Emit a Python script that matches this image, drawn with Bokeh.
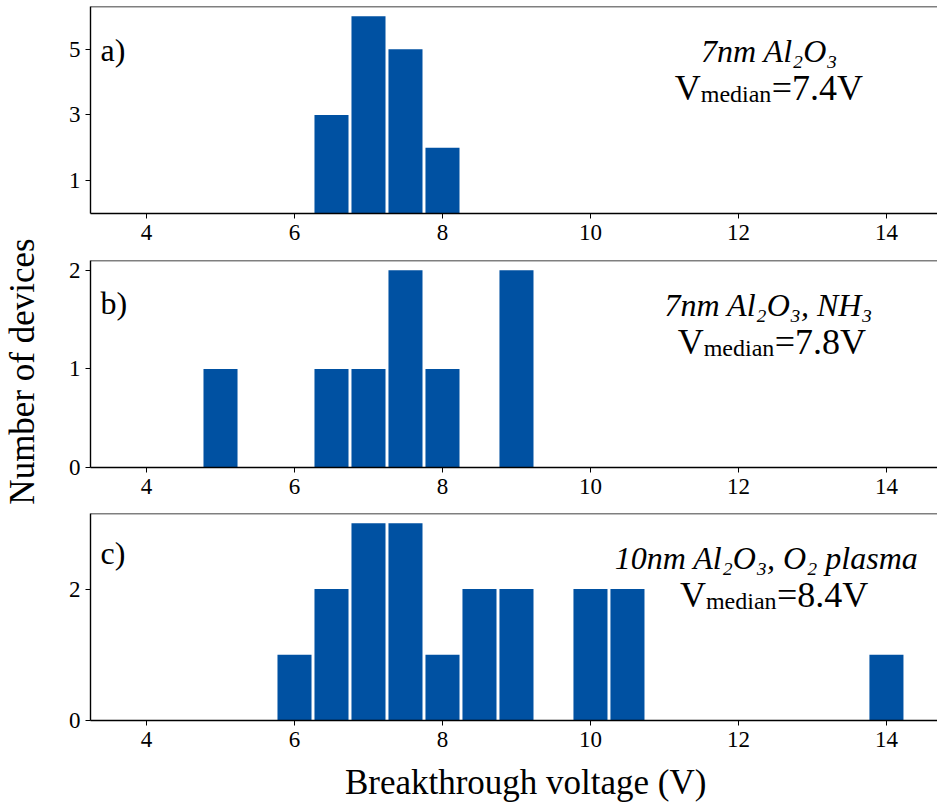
import math
from bokeh.plotting import figure
from bokeh.models import Range1d, FixedTicker, Label, Span, ColumnDataSource
from bokeh.layouts import column, row
from bokeh.embed import file_html
from bokeh.resources import INLINE

# ---- data ----
voltage_a = [6.5, 7.0, 7.5, 8.0]
count_a = [3, 6, 5, 2]
voltage_b = [5.0, 6.5, 7.0, 7.5, 8.0, 9.0]
count_b = [1, 1, 1, 2, 1, 2]
voltage_c = [6.0, 6.5, 7.0, 7.5, 8.0, 8.5, 9.0, 10.0, 10.5, 14.0]
count_c = [1, 2, 3, 3, 1, 2, 2, 2, 2, 1]
x_ticks = [4, 6, 8, 10, 12, 14]
y_ticks_a = [1, 3, 5]
y_ticks_b = [0, 1, 2]
y_ticks_c = [0, 2]
y_max = [6.3, 2.1, 3.15]
panel_labels = ["a)", "b)", "c)"]
titles = ["7nm Al\u2082O\u2083", "7nm Al\u2082O\u2083, NH\u2083", "10nm Al\u2082O\u2083, O\u2082 plasma"]
medians = ["7.4", "7.8", "8.4"]
x_label = "Breakthrough voltage (V)"
y_label = "Number of devices"

BAR = "#0051a2"
FONT = "Liberation Serif"
X_START, X_END = 3.243, 14.69
FIG_W = 889
BORDER_L = 42


def make_panel(volts, counts, yticks, ymax, height, btop, bbot, plabel, title, med,
               title_x, anchor_x, plabel_off):
    p = figure(width=FIG_W, height=height, x_range=Range1d(X_START, X_END),
               y_range=Range1d(0, ymax), output_backend="svg", toolbar_location=None,
               min_border_left=BORDER_L, min_border_right=0, min_border_top=btop,
               min_border_bottom=bbot)
    p.outline_line_color = None
    p.xgrid.visible = False
    p.ygrid.visible = False
    p.background_fill_color = "white"
    p.border_fill_color = "white"
    src = ColumnDataSource(dict(x=volts, top=counts))
    p.vbar(x="x", top="top", bottom=0, width=0.46, source=src,
           fill_color=BAR, line_color=None)
    p.xaxis.ticker = FixedTicker(ticks=x_ticks)
    p.yaxis.ticker = FixedTicker(ticks=yticks)
    for ax in (p.xaxis[0], p.yaxis[0]):
        ax.axis_line_color = "black"
        ax.axis_line_width = 1.4
        ax.major_tick_line_color = "black"
        ax.major_tick_line_width = 1
        ax.major_tick_out = 5
        ax.major_tick_in = 0
        ax.minor_tick_line_color = None
        ax.major_label_text_font = FONT
        ax.major_label_text_font_size = "23px"
        ax.major_label_text_color = "black"
    p.xaxis.major_label_standoff = 6
    p.yaxis.major_label_standoff = 5
    p.add_layout(Span(location=ymax, dimension="width", line_color="black", line_width=1.4))
    # panel label
    p.add_layout(Label(x=X_START, y=ymax, x_offset=10, y_offset=-plabel_off, text=plabel,
                       text_font=FONT, text_font_size="32px", text_color="black",
                       text_align="left", text_baseline="alphabetic"))
    # title line
    p.add_layout(Label(x=title_x, y=ymax, y_offset=-44, text=title, text_font=FONT,
                       text_font_style="italic", text_font_size="32px", text_color="black",
                       text_align="center", text_baseline="alphabetic"))
    # V_median = ...
    p.add_layout(Label(x=anchor_x, y=ymax, y_offset=-81, text="V", text_font=FONT,
                       text_font_size="36px", text_color="black", text_align="right",
                       text_baseline="alphabetic"))
    p.add_layout(Label(x=anchor_x, y=ymax, x_offset=0, y_offset=-87, text="median",
                       text_font=FONT, text_font_size="24px", text_color="black",
                       text_align="left", text_baseline="alphabetic"))
    p.add_layout(Label(x=anchor_x, y=ymax, x_offset=71, y_offset=-81, text="=" + med + "V",
                       text_font=FONT, text_font_size="36px", text_color="black",
                       text_align="left", text_baseline="alphabetic"))
    return p


pa = make_panel(voltage_a, count_a, y_ticks_a, y_max[0], 248, 6, 35, panel_labels[0],
                titles[0], medians[0], 12.42, 11.49, 43)
pb = make_panel(voltage_b, count_b, y_ticks_b, y_max[1], 254, 12, 35, panel_labels[1],
                titles[1], medians[1], 12.41, 11.53, 42)
pc = make_panel(voltage_c, count_c, y_ticks_c, y_max[2], 253, 11, 35, panel_labels[2],
                titles[2], medians[2], 12.38, 11.56, 39)

# bottom strip carrying the shared x-axis title
xl = figure(width=FIG_W, height=53, x_range=Range1d(X_START, X_END), y_range=Range1d(0, 53),
            output_backend="svg", toolbar_location=None, min_border_left=BORDER_L,
            min_border_right=0, min_border_top=0, min_border_bottom=0,
            x_axis_location=None, y_axis_location=None)
xl.outline_line_color = None
xl.xgrid.visible = False
xl.ygrid.visible = False
xl.add_layout(Label(x=9.124, y=26, text=x_label, text_font=FONT, text_font_size="35px",
                    text_color="black", text_align="center", text_baseline="middle"))

# left strip carrying the shared y-axis title
yl = figure(width=48, height=808, x_range=Range1d(0, 48), y_range=Range1d(0, 808),
            output_backend="svg", toolbar_location=None, min_border=0,
            x_axis_location=None, y_axis_location=None)
yl.outline_line_color = None
yl.xgrid.visible = False
yl.ygrid.visible = False
yl.add_layout(Label(x=22, y=437, angle=math.pi / 2, text=y_label, text_font=FONT,
                    text_font_size="35px", text_color="black", text_align="center",
                    text_baseline="middle"))

layout = row(yl, column(pa, pb, pc, xl))
open("out.html", "w").write(file_html(layout, INLINE))
